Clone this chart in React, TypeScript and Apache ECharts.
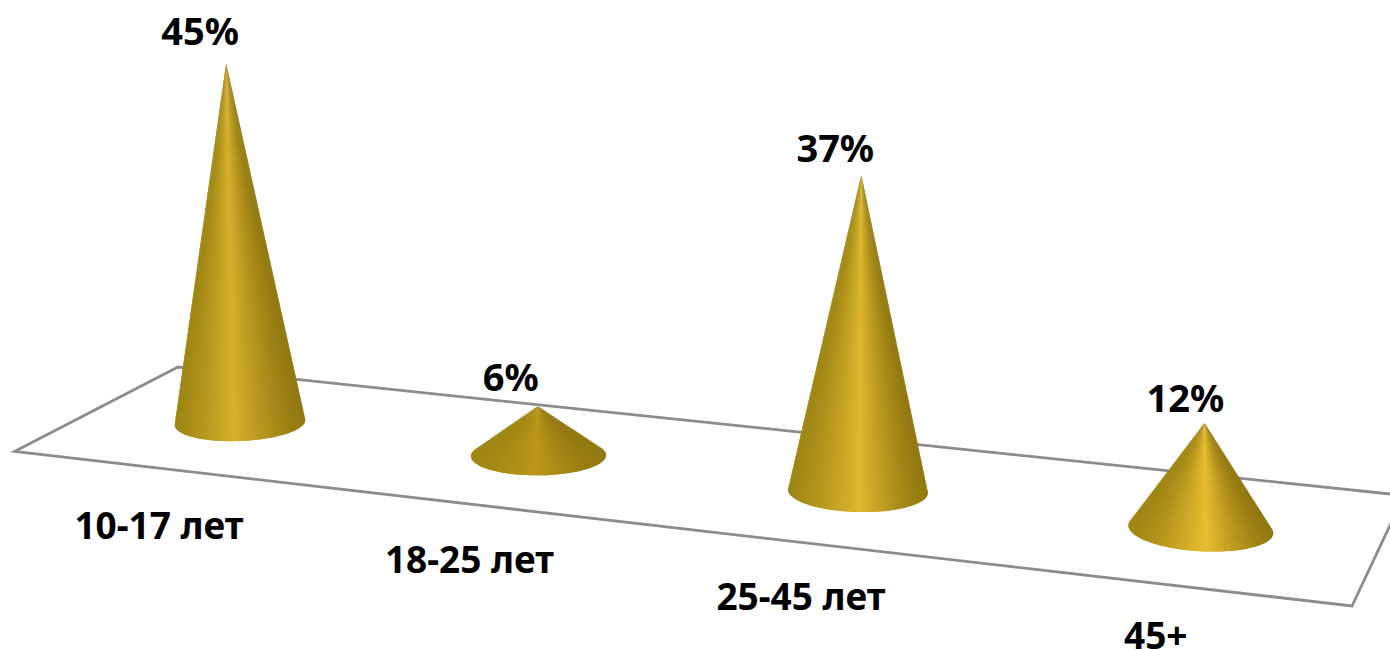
import React, { useEffect, useRef } from "react";
import * as echarts from "echarts";

const categories = ["10-17 лет", "18-25 лет", "25-45 лет", "45+"];
const shares = [45, 6, 37, 12];

const FONT = '"Noto Sans", sans-serif';
const PEAKS = [[214, 178, 44], [186, 151, 26], [222, 184, 46], [232, 190, 48]];
const LEFT_EDGE = [160, 134, 20];
const RIGHT_EDGE = [146, 120, 16];
const VALUE_SHIFT = [-26, -27, -26, -19];

// perspective of the floor: band index -> screen position
const project = (u: number) => {
  const w = 1 - 0.03286 * u;
  const x = (280.8 * u + 240) / w;
  return { x, y: 422.5 + 0.1112 * (x - 240), s: 1 / w };
};

const mix = (a: number[], b: number[], f: number) =>
  `rgb(${a.map((v, i) => Math.round(v + (b[i] - v) * f)).join(",")})`;

function renderCone(_params: any, api: any) {
  const u = api.value(0) as number;
  const v = api.value(1) as number;
  const i = Math.round(u);
  const zero = api.coord([u, 0]);
  const top = api.coord([u, v]);
  const base = project(u);
  const height = (zero[1] - top[1]) * base.s;
  const lean = -0.0386 + 0.0245 * u;
  const tilt = -0.038 + 0.03 * u;
  const tip = [base.x + lean * height, base.y - height];
  const a = 65.25 * base.s;
  const b = 18.5 + 1.15 * u;
  const delta = Math.asin(Math.min(0.9, b / height));
  const point = (t: number) => {
    const dx = a * Math.cos(t);
    const dy = b * Math.sin(t);
    return [base.x + dx, base.y + dy + dx * tilt];
  };
  const N = 64;
  const step = (Math.PI + 2 * delta) / N;
  const peakAt = 0.45 + 0.03 * u;
  const children: any[] = [];
  for (let k = 0; k < N; k++) {
    const t0 = -delta + step * k;
    const t1 = -delta + step * Math.min(N, k + 2);
    const p0 = point(t0);
    const pm = point(-delta + step * (k + 1));
    const p1 = point(t1);
    const mid = point(t0 + step / 2);
    const pos = (mid[0] - (base.x - a)) / (2 * a);
    const d = pos < peakAt ? (peakAt - pos) / peakAt : (pos - peakAt) / (1 - peakAt);
    const f = Math.pow(1 - Math.min(1, d), 1.25);
    const color = mix(pos < peakAt ? LEFT_EDGE : RIGHT_EDGE, PEAKS[i], f);
    children.push({
      type: "polygon",
      shape: { points: [tip, p0, pm, p1] },
      style: { fill: color },
    });
  }
  children.push({
    type: "text",
    style: {
      text: `${v}%`,
      x: tip[0] + VALUE_SHIFT[i],
      y: tip[1] - 33 + 2.33 * u,
      align: "center",
      verticalAlign: "middle",
      fontFamily: FONT,
      fontWeight: "bold",
      fontSize: 38,
      fill: "#000",
    },
  });
  children.push({
    type: "text",
    style: {
      text: categories[i],
      x: base.x - 81 + 12 * u,
      y: base.y + 102 + 1.2 * u,
      align: "center",
      verticalAlign: "middle",
      fontFamily: FONT,
      fontWeight: "bold",
      fontSize: 37,
      lineHeight: 26,
      fill: "#000",
    },
  });
  return { type: "group", children };
}

export default function App() {
  const ref = useRef<HTMLDivElement>(null);
  useEffect(() => {
    document.body.style.margin = "0";
    const chart = echarts.init(ref.current!, null, { renderer: "svg" });
    chart.setOption({
      animation: false,
      backgroundColor: "#fff",
      grid: { left: 0, right: 0, top: 100, height: 399 },
      xAxis: { type: "category", data: categories, show: false },
      yAxis: { type: "value", min: 0, max: 50, show: false },
      graphic: [
        {
          type: "polygon",
          z: 0,
          shape: { points: [[14.5, 451.5], [178, 367], [1404, 495.5], [1352, 606]] },
          style: { fill: "#fff", stroke: "#8c8c8c", lineWidth: 2.8 },
        },
      ],
      series: [
        {
          type: "custom",
          renderItem: renderCone,
          encode: { x: 0, y: 1 },
          data: shares.map((v, i) => [i, v]),
          z: 5,
        },
      ],
    });
    return () => chart.dispose();
  }, []);
  return <div ref={ref} style={{ position: "absolute", left: 0, top: 0, width: 1390, height: 650, overflow: "hidden" }} />;
}
